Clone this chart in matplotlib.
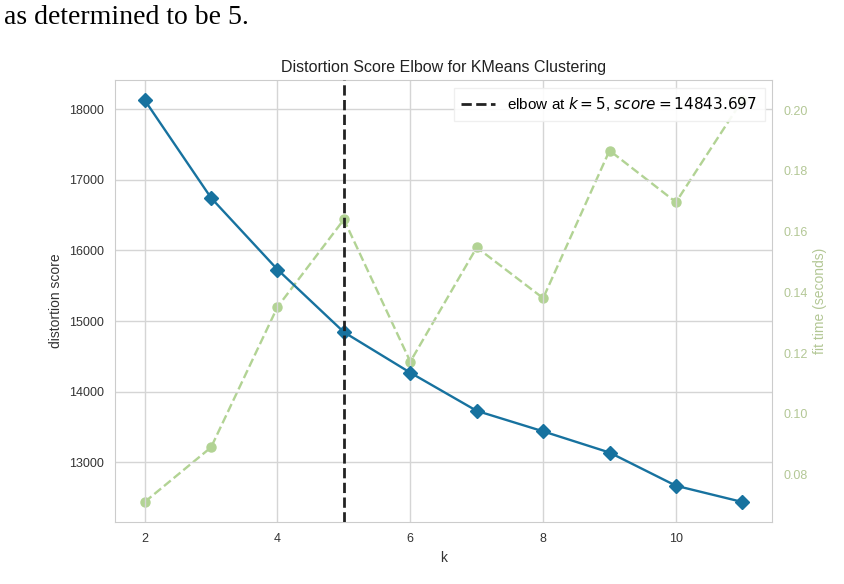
import matplotlib
matplotlib.use("Agg")
import matplotlib.pyplot as plt

# k values and scores
k_values = [2, 3, 4, 5, 6, 7, 8, 9, 10, 11]
distortion = [18128, 16744, 15730, 14843.697, 14270, 13730, 13440, 13140, 12670, 12440]
fit_time = [0.0710, 0.0890, 0.1352, 0.1640, 0.1172, 0.1548, 0.1381, 0.1867, 0.1697, 0.2033]
elbow_k = 5
elbow_score = 14843.697

plt.rcParams['font.family'] = ['Liberation Sans', 'DejaVu Sans']

blue = '#17729f'
green = '#b2d394'
grid_c = '#d5d5d5'
tick_c = '#333333'

fig = plt.figure(figsize=(8.44, 5.84), dpi=100)
ax = fig.add_axes([0.136, 0.106, 0.779, 0.757])

ax.plot(k_values, distortion, marker='D', color=blue, lw=1.7, ms=7, zorder=3)
ax.axvline(elbow_k, color='#222222', ls='--', lw=2,
           label=f"elbow at $k={elbow_k}$, $score={elbow_score:.3f}$", zorder=4)

ax.grid(True, color=grid_c, lw=1)
ax.set_axisbelow(True)
for s in ax.spines.values():
    s.set_color('#cccccc')
ax.tick_params(colors=tick_c, labelsize=9, length=0, pad=8)
ax.set_xticks([2, 4, 6, 8, 10])
ax.set_xlabel('k', fontsize=10, color=tick_c)
ax.set_ylabel('distortion score', fontsize=10, color=tick_c)
ax.set_title('Distortion Score Elbow for KMeans Clustering', fontsize=11.5, color='#222222', pad=6)

ax2 = ax.twinx()
ax2.plot(k_values, fit_time, marker='o', color=green, ls='--', lw=1.7, ms=6.5, zorder=2)
ax2.grid(False)
for s in ax2.spines.values():
    s.set_visible(False)
ax2.set_yticks([0.08, 0.10, 0.12, 0.14, 0.16, 0.18, 0.20])
ax2.tick_params(colors='#b3c795', labelsize=9, length=0, pad=8)
ax2.set_ylabel('fit time (seconds)', fontsize=10, color='#b3c795')

leg = ax.legend(loc='upper right', fontsize=11, frameon=True, fancybox=False,
                borderpad=0.5, handlelength=2.2)
leg.get_frame().set_edgecolor('#eeeeee')
leg.get_frame().set_facecolor('white')
leg.get_frame().set_alpha(0.9)
leg.set_zorder(10)
ax.set_zorder(ax2.get_zorder() + 1)
ax.patch.set_visible(False)

# line of document text above the screenshot
fig.text(4 / 844, 1 - 24 / 584, 'as determined to be 5.', fontsize=20,
         family='Liberation Serif', va='baseline', ha='left')

fig.savefig('out.png', dpi=100, facecolor='white')
